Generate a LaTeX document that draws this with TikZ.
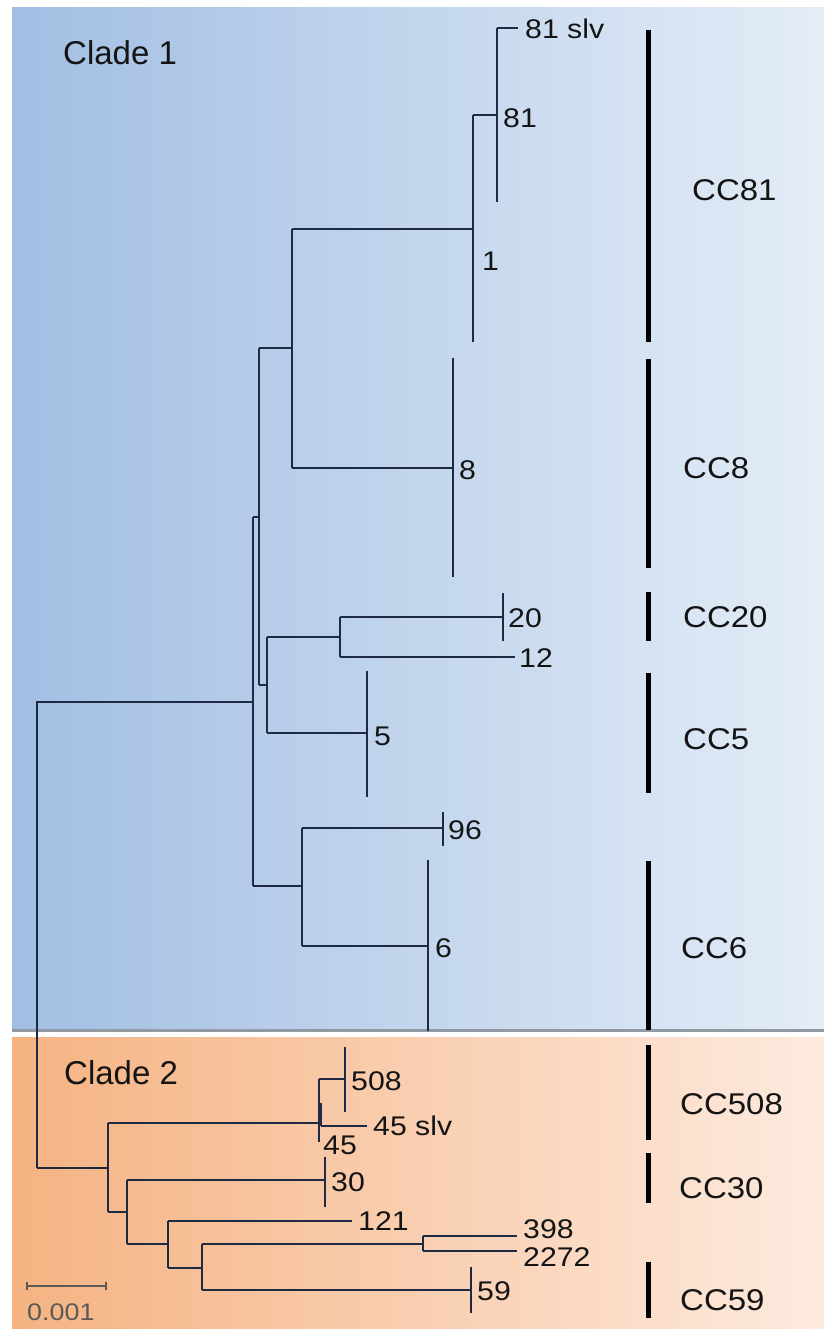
\documentclass[tikz,border=0pt]{standalone}
\usepackage{fontspec}
\setmainfont{Liberation Sans}
\definecolor{ln}{HTML}{1E2A44}
\definecolor{txt}{HTML}{141414}
\definecolor{blA}{HTML}{A2BEE3}
\definecolor{blB}{HTML}{C7D7EE}
\definecolor{blC}{HTML}{E4EDF7}
\definecolor{orA}{HTML}{F5B382}
\definecolor{orB}{HTML}{FBD5BC}
\definecolor{orC}{HTML}{FDEADF}
\definecolor{shd}{HTML}{9199A2}
\definecolor{scl}{HTML}{5A5A5A}
\newcommand\wide[1]{\scalebox{1.1}[1]{#1}}
\newcommand\wt[1]{\scalebox{1.12}[1]{#1}}
\begin{document}
\begin{tikzpicture}[x=1pt,y=-1pt,
  br/.style={draw=ln,line width=1.4pt},
  bar/.style={draw=black,line width=5pt},
  lab/.style={anchor=west,inner sep=0pt,text=txt,font=\fontsize{27}{27}\selectfont},
  cc/.style={anchor=west,inner sep=0pt,text=txt,font=\fontsize{30}{30}\selectfont},
  clade/.style={anchor=west,inner sep=0pt,text=txt,font=\fontsize{33}{33}\selectfont}]
\useasboundingbox (0,0) rectangle (824,1329);
\fill[white] (0,0) rectangle (824,1329);
% panels
\shade[left color=blA, middle color=blB, right color=blC] (12,8) rectangle (824,1029);
\draw[shd,line width=2.5pt] (12,1030.5) -- (824,1030.5);
\shade[left color=orA, middle color=orB, right color=orC] (12,1037) rectangle (824,1329);

\node[clade] (c1) at (63,53) {Clade 1};
\node[clade] (c2) at (64,1073) {Clade 2};

% ---------- Clade 1 tree ----------
\coordinate (rt) at (37,702);
\coordinate (rb) at (37,1168);
\draw[br] (rb) -- (rt) -- (253,702);
% n1
\coordinate (n1t) at (253,517); \coordinate (n1b) at (253,886);
\draw[br] (n1t) -- (n1b);
% n2
\coordinate (n2t) at (259,348); \coordinate (n2b) at (259,685);
\draw[br] (n1t) -- (n2t |- n1t);
\draw[br] (n2t) -- (n2b);
% n3
\coordinate (n3t) at (292,229); \coordinate (n3b) at (292,468);
\draw[br] (n2t) -- (n3t |- n2t) ;
\draw[br] (n3t) -- (n3b);
% n4 (with leaf 1)
\coordinate (n4t) at (473,115); \coordinate (n4b) at (473,342);
\draw[br] (n3t) -- (n4t |- n3t);
\draw[br] (n4t) -- (n4b);
% n5 (with leaf 81)
\coordinate (n5t) at (497,28); \coordinate (n5b) at (497,202);
\draw[br] (n4t) -- (n5t |- n4t);
\draw[br] (n5t) -- (n5b);
\coordinate (l81s) at (518,28);
\draw[br,line width=2pt] (n5t) -- (l81s);
\node[lab] (t81s) at (525,29) {\wt{81 slv}};
\node[lab] (t81) at (503,118) {\wt{81}};
\node[lab] (t1) at (482,261) {\wt{1}};
% leaf 8
\coordinate (l8t) at (453,358); \coordinate (l8b) at (453,577);
\draw[br] (n3b) -- (l8t |- n3b);
\draw[br] (l8t) -- (l8b);
\node[lab] (t8) at (459,470) {\wt{8}};
% n6
\coordinate (n6t) at (267,637); \coordinate (n6b) at (267,733);
\draw[br] (n2b) -- (n6t |- n2b);
\draw[br] (n6t) -- (n6b);
% n7
\coordinate (n7t) at (340,617); \coordinate (n7b) at (340,657);
\draw[br] (n6t) -- (n7t |- n6t);
\draw[br] (n7t) -- (n7b);
% leaf 20
\coordinate (l20t) at (503,593); \coordinate (l20b) at (503,641);
\draw[br] (n7t) -- (l20t |- n7t);
\draw[br] (l20t) -- (l20b);
\node[lab] (t20) at (508,618) {\wt{20}};
% leaf 12
\coordinate (l12) at (515,657);
\draw[br] (n7b) -- (l12);
\node[lab] (t12) at (519,658) {\wt{12}};
% leaf 5
\coordinate (l5t) at (367,671); \coordinate (l5b) at (367,797);
\draw[br] (n6b) -- (l5t |- n6b);
\draw[br] (l5t) -- (l5b);
\node[lab] (t5) at (374,736) {\wt{5}};
% n8
\coordinate (n8t) at (302,828); \coordinate (n8b) at (302,946);
\draw[br] (n1b) -- (n8t |- n1b);
\draw[br] (n8t) -- (n8b);
% leaf 96
\coordinate (l96t) at (443,812); \coordinate (l96b) at (443,846);
\draw[br] (n8t) -- (l96t |- n8t);
\draw[br] (l96t) -- (l96b);
\node[lab] (t96) at (448,830) {\wt{96}};
% leaf 6
\coordinate (l6t) at (428,860); \coordinate (l6b) at (428,1031);
\draw[br] (n8b) -- (l6t |- n8b);
\draw[br] (l6t) -- (l6b);
\node[lab] (t6) at (435,948) {\wt{6}};

% ---------- Clade 2 tree ----------
\coordinate (n9t) at (108,1123); \coordinate (n9b) at (108,1212);
\draw[br] (rb) -- (n9t |- rb);
\draw[br] (n9t) -- (n9b);
% n10
\coordinate (n10t) at (319,1079); \coordinate (n10b) at (319,1142);
\draw[br] (n9t) -- (n10t |- n9t);
\draw[br] (n10t) -- (n10b);
\draw[br] (321,1103) -- (321,1126);
\coordinate (l508t) at (345,1047); \coordinate (l508b) at (345,1112);
\draw[br] (n10t) -- (l508t |- n10t);
\draw[br] (l508t) -- (l508b);
\node[lab] (t508) at (351,1081) {\wt{508}};
\coordinate (l45s) at (367,1126);
\draw[br] (321,1126) -- (l45s);
\node[lab] (t45s) at (373,1126) {\wt{45 slv}};
\node[lab] (t45) at (323,1145) {\wt{45}};
% n11
\coordinate (n11t) at (127,1180); \coordinate (n11b) at (127,1244);
\draw[br] (n9b) -- (n11t |- n9b);
\draw[br] (n11t) -- (n11b);
\coordinate (l30t) at (325,1157); \coordinate (l30b) at (325,1207);
\draw[br] (n11t) -- (l30t |- n11t);
\draw[br] (l30t) -- (l30b);
\node[lab] (t30) at (331,1182) {\wt{30}};
% n12
\coordinate (n12t) at (168,1221); \coordinate (n12b) at (168,1268);
\draw[br] (n11b) -- (n12t |- n11b);
\draw[br] (n12t) -- (n12b);
\coordinate (l121) at (352,1221);
\draw[br] (n12t) -- (l121);
\node[lab] (t121) at (358,1221) {\wt{121}};
% n13
\coordinate (n13t) at (202,1244); \coordinate (n13b) at (202,1290);
\draw[br] (n12b) -- (n13t |- n12b);
\draw[br] (n13t) -- (n13b);
% n14
\coordinate (n14t) at (423,1236); \coordinate (n14b) at (423,1251);
\draw[br] (n13t) -- (n14t |- n13t);
\draw[br] (n14t) -- (n14b);
\coordinate (l398) at (517,1236); \coordinate (l2272) at (517,1251);
\draw[br] (n14t) -- (l398);
\draw[br] (n14b) -- (l2272);
\node[lab] (t398) at (523,1229) {\wt{398}};
\node[lab] (t2272) at (523,1257) {\wt{2272}};
% leaf 59
\coordinate (l59t) at (471,1267); \coordinate (l59b) at (471,1313);
\draw[br] (n13b) -- (l59t |- n13b);
\draw[br] (l59t) -- (l59b);
\node[lab] (t59) at (477,1291) {\wt{59}};

% scale bar
\coordinate (sa) at (27,1286); \coordinate (sb) at (106,1286);
\draw[draw=scl,line width=1.3pt] (sa) -- (sb);
\draw[draw=scl,line width=1.3pt] ([yshift=-4pt]sa) -- ([yshift=4pt]sa);
\draw[draw=scl,line width=1.3pt] ([yshift=-4pt]sb) -- ([yshift=4pt]sb);
\node[anchor=west,inner sep=0pt,text=scl,font=\fontsize{24}{24}\selectfont] (sl) at (27,1312) {\wt{0.001}};

% CC bars
\draw[bar] (648,30) -- (648,342);
\draw[bar] (648,359) -- (648,568);
\draw[bar] (648,592) -- (648,641);
\draw[bar] (648,673) -- (648,793);
\draw[bar] (648,861) -- (648,1030);
\draw[bar] (648,1045) -- (648,1140);
\draw[bar] (648,1153) -- (648,1203);
\draw[bar] (648,1262) -- (648,1318);
\node[cc] (cc81) at (692,190) {\wide{CC81}};
\node[cc] (cc8) at (683,468) {\wide{CC8}};
\node[cc] (cc20) at (683,617) {\wide{CC20}};
\node[cc] (cc5) at (683,739) {\wide{CC5}};
\node[cc] (cc6) at (681,948) {\wide{CC6}};
\node[cc] (cc508) at (680,1104) {\wide{CC508}};
\node[cc] (cc30) at (679,1188) {\wide{CC30}};
\node[cc] (cc59) at (680,1300) {\wide{CC59}};
\end{tikzpicture}
\end{document}
